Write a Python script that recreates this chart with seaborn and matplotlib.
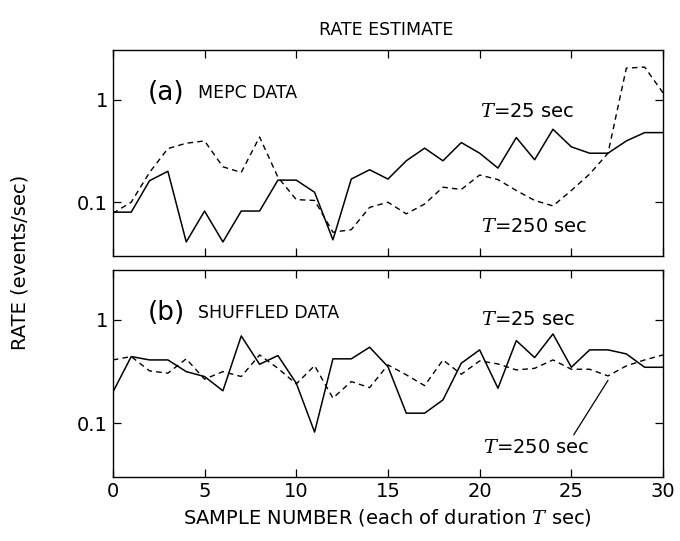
import numpy as np
import pandas as pd
import matplotlib
matplotlib.use('Agg')
import matplotlib.pyplot as plt
import seaborn as sns

samples = list(range(31))

# panel (a) MEPC data
mepc_25 = [0.080, 0.080, 0.162, 0.200, 0.041, 0.082, 0.041, 0.082, 0.082, 0.164,
           0.164, 0.125, 0.043, 0.168, 0.207, 0.168, 0.253, 0.336, 0.253, 0.381,
           0.300, 0.215, 0.426, 0.259, 0.513, 0.346, 0.300, 0.300, 0.395, 0.476,
           0.476]
mepc_250 = [0.078, 0.100, 0.195, 0.333, 0.375, 0.395, 0.221, 0.195, 0.432, 0.175,
            0.106, 0.104, 0.051, 0.054, 0.089, 0.100, 0.077, 0.096, 0.140, 0.133,
            0.184, 0.166, 0.130, 0.104, 0.092, 0.130, 0.188, 0.300, 2.02, 2.07,
            1.16]

# panel (b) shuffled data
shuf_25 = [0.200, 0.442, 0.410, 0.410, 0.316, 0.283, 0.206, 0.700, 0.372, 0.452,
           0.244, 0.082, 0.420, 0.420, 0.544, 0.353, 0.125, 0.125, 0.168, 0.381,
           0.513, 0.218, 0.631, 0.432, 0.732, 0.348, 0.513, 0.513, 0.469, 0.348,
           0.348]
shuf_250 = [0.410, 0.442, 0.321, 0.305, 0.420, 0.267, 0.316, 0.283, 0.458, 0.340,
            0.240, 0.361, 0.175, 0.253, 0.221, 0.367, 0.294, 0.231, 0.410, 0.298,
            0.401, 0.375, 0.328, 0.340, 0.410, 0.333, 0.333, 0.287, 0.359, 0.410,
            0.458]

sns.set_style('ticks', {'axes.edgecolor': 'black', 'text.color': 'black',
                        'xtick.color': 'black', 'ytick.color': 'black',
                        'axes.labelcolor': 'black'})
plt.rcParams['font.family'] = ['DejaVu Sans']
plt.rcParams['mathtext.fontset'] = 'dejavuserif'

fig = plt.figure(figsize=(6.8, 5.41), dpi=100)
ax1 = fig.add_axes([0.166, 0.527, 0.809, 0.381])
ax2 = fig.add_axes([0.166, 0.118, 0.809, 0.383])

panels = [
    (ax1, mepc_25, mepc_250, '(a)', 'MEPC DATA'),
    (ax2, shuf_25, shuf_250, '(b)', 'SHUFFLED DATA'),
]

for ax, s25, s250, tag, name in panels:
    df = pd.DataFrame({'sample': samples, 't25': s25, 't250': s250})
    sns.lineplot(data=df, x='sample', y='t25', color='black', lw=1.1, ax=ax)
    sns.lineplot(data=df, x='sample', y='t250', color='black', lw=1.0,
                 ls=(0, (4, 3)), ax=ax)
    ax.set_yscale('log')
    ax.set_xlim(0, 30)
    ax.set_ylim(0.03, 3.05)
    ax.set_yticks([0.1, 1])
    ax.set_yticklabels(['0.1', '1'])
    ax.yaxis.set_minor_locator(matplotlib.ticker.NullLocator())
    ax.set_xticks(range(0, 31, 5))
    ax.tick_params(direction='in', top=True, right=True, length=6,
                   width=0.9, labelsize=14, colors='black')
    for sp in ax.spines.values():
        sp.set_linewidth(1.0)
        sp.set_color('black')
    ax.set_xlabel('')
    ax.set_ylabel('')
    ax.text(0.064, 0.79, tag, transform=ax.transAxes, fontsize=19,
            va='center', ha='left', color='black')
    ax.text(0.155, 0.79, name, transform=ax.transAxes, fontsize=12.5,
            va='center', ha='left', color='black')

ax1.tick_params(labelbottom=False)

ax1.text(20.0, 0.77, '$T$=25 sec', fontsize=14, va='center', ha='left')
ax1.text(20.1, 0.058, '$T$=250 sec', fontsize=14, va='center', ha='left')
ax2.text(20.1, 1.0, '$T$=25 sec', fontsize=14, va='center', ha='left')
ax2.annotate('$T$=250 sec', xy=(27.0, 0.26), xytext=(20.2, 0.058),
             fontsize=14, va='center', ha='left',
             arrowprops=dict(arrowstyle='-', color='black', lw=0.9,
                             shrinkA=0, shrinkB=0,
                             relpos=(0.83, 1.0)))

fig.text(0.568, 0.944, 'RATE ESTIMATE', fontsize=12.5, ha='center', va='center')
ax2.set_xlabel('SAMPLE NUMBER (each of duration $T$ sec)', fontsize=14,
               labelpad=4, color='black')
fig.text(0.03, 0.515, 'RATE (events/sec)', fontsize=14, rotation=90,
         ha='center', va='center')

fig.savefig('out.png', dpi=100)
